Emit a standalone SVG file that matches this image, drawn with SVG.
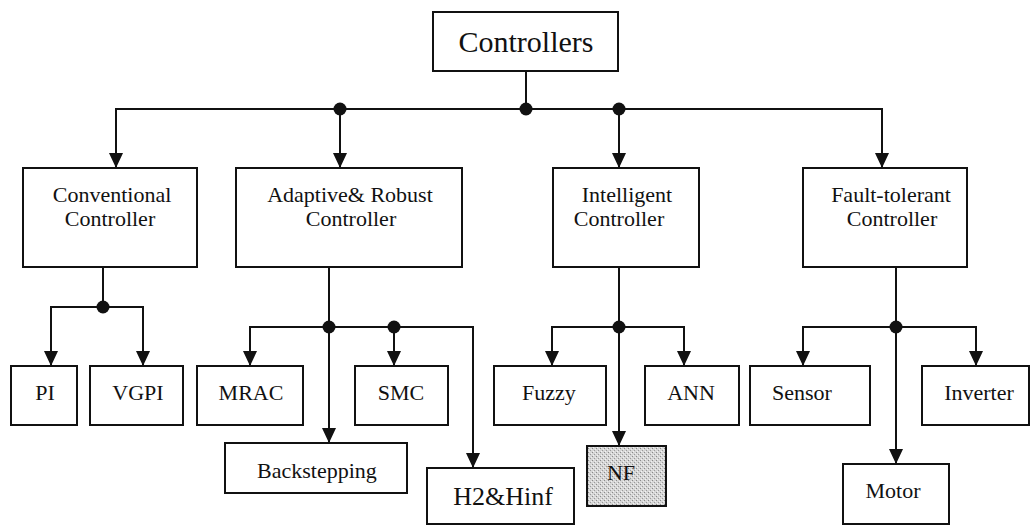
<svg xmlns="http://www.w3.org/2000/svg" width="1031" height="527" viewBox="0 0 1031 527">
  <style>
    .box { fill: #ffffff; stroke: #111111; stroke-width: 2; }
    .shaded { fill: url(#stipple); stroke: #111111; stroke-width: 2; }
    .label { font-size: 22px; fill: #111111; text-anchor: middle; }
    .title { font-size: 30px; }
    .big { font-size: 26px; }
    .wire { fill: none; stroke: #111111; stroke-width: 2; }
    .arrow { marker-end: url(#head); }
    .dot { fill: #111111; }
  </style>
  <defs>
    <marker id="head" viewBox="0 0 10 10" refX="10" refY="5" markerUnits="userSpaceOnUse" markerWidth="15" markerHeight="14" orient="auto" preserveAspectRatio="none">
      <path d="M0,0 L10,5 L0,10 Z" fill="#111111"/>
    </marker>
    <pattern id="stipple" width="4" height="4" patternUnits="userSpaceOnUse">
      <rect width="4" height="4" fill="#d6d6d6"/>
      <rect x="0" y="0" width="1" height="1" fill="#8a8a8a"/>
      <rect x="2" y="2" width="1" height="1" fill="#9a9a9a"/>
      <rect x="3" y="1" width="1" height="1" fill="#f0f0f0"/>
      <rect x="1" y="3" width="1" height="1" fill="#f4f4f4"/>
    </pattern>
  </defs>

  <!-- connectors -->
  <g id="connectors">
    <!-- top level bus -->
    <path class="wire" d="M526,71 V109"/>
    <path class="wire" d="M340,109 H619"/>
    <path class="wire arrow" d="M340,109 H116 V168"/>
    <path class="wire arrow" d="M340,109 V168"/>
    <path class="wire arrow" d="M619,109 V168"/>
    <path class="wire arrow" d="M619,109 H882 V168"/>
    <circle class="dot" cx="340" cy="109" r="6.5"/>
    <circle class="dot" cx="526" cy="109" r="6.5"/>
    <circle class="dot" cx="619" cy="109" r="6.5"/>

    <!-- conventional branch -->
    <path class="wire" d="M103,267 V307"/>
    <path class="wire arrow" d="M103,307 H51 V366"/>
    <path class="wire arrow" d="M103,307 H143 V366"/>
    <circle class="dot" cx="103" cy="307" r="6.5"/>

    <!-- adaptive & robust branch -->
    <path class="wire" d="M329,267 V327"/>
    <path class="wire arrow" d="M329,327 H250 V366"/>
    <path class="wire arrow" d="M329,327 V443"/>
    <path class="wire arrow" d="M329,327 H394 V366"/>
    <path class="wire arrow" d="M394,327 H473 V468"/>
    <circle class="dot" cx="329" cy="327" r="6.5"/>
    <circle class="dot" cx="394" cy="327" r="6.5"/>

    <!-- intelligent branch -->
    <path class="wire" d="M619,267 V327"/>
    <path class="wire arrow" d="M619,327 H552 V366"/>
    <path class="wire arrow" d="M619,327 V446"/>
    <path class="wire arrow" d="M619,327 H684 V366"/>
    <circle class="dot" cx="619" cy="327" r="6.5"/>

    <!-- fault-tolerant branch -->
    <path class="wire" d="M896,267 V327"/>
    <path class="wire arrow" d="M896,327 H803 V366"/>
    <path class="wire arrow" d="M896,327 V464"/>
    <path class="wire arrow" d="M896,327 H976 V366"/>
    <circle class="dot" cx="896" cy="327" r="6.5"/>
  </g>

  <!-- nodes -->
  <g id="nodes" font-family="'Liberation Serif', 'Times New Roman', Times, 'DejaVu Serif', serif">
    <g id="controllers">
      <rect class="box" x="433" y="12" width="185" height="59"/>
      <text class="label title" x="526" y="52">Controllers</text>
    </g>

    <g id="conventional">
      <rect class="box" x="23" y="168" width="174" height="99"/>
      <text class="label" x="112" y="202">Conventional</text>
      <text class="label" x="110" y="226">Controller</text>
    </g>

    <g id="adaptive-robust">
      <rect class="box" x="236" y="168" width="226" height="99"/>
      <text class="label" x="350" y="202">Adaptive&amp; Robust</text>
      <text class="label" x="351" y="226">Controller</text>
    </g>

    <g id="intelligent">
      <rect class="box" x="553" y="168" width="146" height="99"/>
      <text class="label" x="627" y="202">Intelligent</text>
      <text class="label" x="619" y="226">Controller</text>
    </g>

    <g id="fault-tolerant">
      <rect class="box" x="803" y="168" width="164" height="99"/>
      <text class="label" x="891" y="202">Fault-tolerant</text>
      <text class="label" x="892" y="226">Controller</text>
    </g>

    <g id="pi">
      <rect class="box" x="11" y="366" width="66" height="59"/>
      <text class="label" x="45" y="400">PI</text>
    </g>

    <g id="vgpi">
      <rect class="box" x="90" y="366" width="93" height="59"/>
      <text class="label" x="138" y="400">VGPI</text>
    </g>

    <g id="mrac">
      <rect class="box" x="197" y="366" width="106" height="59"/>
      <text class="label" x="251" y="400">MRAC</text>
    </g>

    <g id="smc">
      <rect class="box" x="355" y="366" width="93" height="59"/>
      <text class="label" x="401" y="400">SMC</text>
    </g>

    <g id="backstepping">
      <rect class="box" x="225" y="443" width="182" height="50"/>
      <text class="label" x="317" y="478">Backstepping</text>
    </g>

    <g id="h2-hinf">
      <rect class="box" x="427" y="468" width="147" height="56"/>
      <text class="label big" x="503" y="505">H2&amp;Hinf</text>
    </g>

    <g id="fuzzy">
      <rect class="box" x="494" y="366" width="112" height="59"/>
      <text class="label" x="549" y="400">Fuzzy</text>
    </g>

    <g id="nf">
      <rect class="shaded" x="587" y="446" width="79" height="60"/>
      <text class="label" x="621" y="480">NF</text>
    </g>

    <g id="ann">
      <rect class="box" x="645" y="366" width="94" height="59"/>
      <text class="label" x="691" y="400">ANN</text>
    </g>

    <g id="sensor">
      <rect class="box" x="750" y="366" width="120" height="59"/>
      <text class="label" x="802" y="400">Sensor</text>
    </g>

    <g id="inverter">
      <rect class="box" x="922" y="366" width="107" height="59"/>
      <text class="label" x="979" y="400">Inverter</text>
    </g>

    <g id="motor">
      <rect class="box" x="843" y="464" width="106" height="60"/>
      <text class="label" x="893" y="498">Motor</text>
    </g>
  </g>
</svg>
